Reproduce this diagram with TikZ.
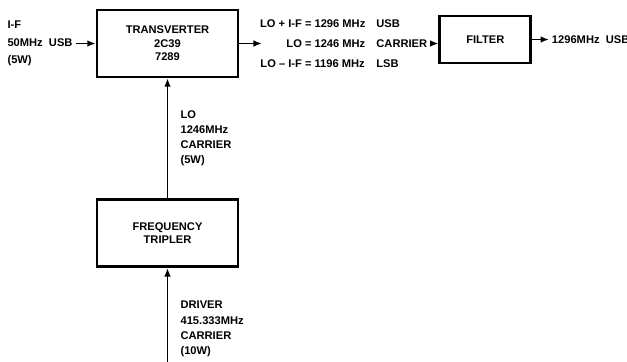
\documentclass[tikz,border=0pt]{standalone}
\usepackage{fontspec}
\setsansfont{Liberation Sans}
\usetikzlibrary{arrows.meta,positioning}
\tikzset{%
  >={Latex[width=2mm,length=2.5mm]},
  % Specifications for style of nodes:
            base/.style = {rectangle, draw=black, line width=2.4pt,
                           text centered, font=\sffamily\bfseries\fontsize{9.5}{11.5}\selectfont},
        stagebox/.style = {base, minimum width=4.23cm, minimum height=2.01cm},
       filterbox/.style = {base, minimum width=2.73cm, minimum height=1.41cm},
             tag/.style = {align=left, inner sep=2pt,
                           font=\sffamily\bfseries\fontsize{9.5}{13}\selectfont},
}

\begin{document}
\begin{tikzpicture}[line width=1.3pt, align=center]
  \useasboundingbox (0,0) rectangle (18.81,-10.86);
  % Specification of nodes (position, etc.)
  \node (trans) [stagebox] at (5.025,-1.305) {TRANSVERTER\\2C39\\7289};
  \node (trip)  [stagebox, below=3.6cm of trans] {FREQUENCY\\TRIPLER};
  \node (ifin)  [tag, left=0.6cm of trans,
                 font=\sffamily\bfseries\fontsize{9.5}{15}\selectfont] {I-F\\50MHz\ \ USB\\(5W)};
  \node (mix)   [tag, right=0.53cm of trans] {\renewcommand{\arraystretch}{1.34}%
    \begin{tabular}{@{}r@{ = }l@{\quad}l@{}}
      LO + I-F  & 1296 MHz & USB\\
      LO        & 1246 MHz & CARRIER\\
      LO -- I-F & 1196 MHz & LSB
    \end{tabular}};
  \node (filt)  [filterbox, right=5.97cm of trans, yshift=0.12cm] {FILTER};
  \node (out)   [tag, right=0.5cm of filt] {1296MHz\ \ USB};
  \coordinate (drv) at ([yshift=-3.2cm]trip.south);
  % Specification of lines between nodes specified above
  % with aditional nodes for description
  \draw[->] (ifin.east) -- (ifin.east -| trans.west);
  \draw[->] (trans.east) -- ([xshift=4pt]mix.west);
  \draw[->] (mix.east) -- (mix.east -| filt.west);
  \draw[->] (filt.east) -- (out.west);
  \draw[->] (trip.north) -- node[tag, right=0.3cm] {LO\\1246MHz\\CARRIER\\(5W)} (trans.south);
  \draw[->] (drv) -- node[tag, right=0.3cm, pos=0.43]
    {DRIVER\\415.333MHz\\CARRIER\\(10W)} (trip.south);
\end{tikzpicture}
\end{document}
